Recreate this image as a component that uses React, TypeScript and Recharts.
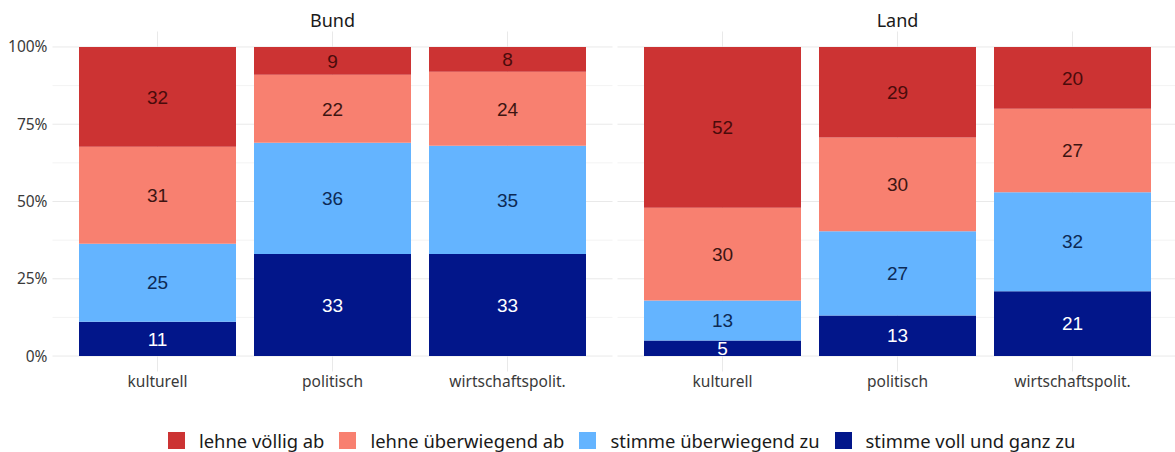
import { BarChart, Bar, XAxis, YAxis, CartesianGrid, LabelList } from "recharts";

const categories = ["kulturell", "politisch", "wirtschaftspolit."];

// Bund
const bundVoll = [11, 33, 33];
const bundUeberZu = [25, 36, 35];
const bundUeberAb = [31, 22, 24];
const bundVoellig = [32, 9, 8];

// Land
const landVoll = [5, 13, 21];
const landUeberZu = [13, 27, 32];
const landUeberAb = [30, 30, 27];
const landVoellig = [52, 29, 20];

const yTicks = [0, 0.25, 0.5, 0.75, 1];
const yMinor = [0.125, 0.375, 0.625, 0.875];

const series = [
  { key: "voll", name: "stimme voll und ganz zu", color: "#02168a", label: "#ffffff" },
  { key: "ueberZu", name: "stimme überwiegend zu", color: "#64b4ff", label: "#0d2a55" },
  { key: "ueberAb", name: "lehne überwiegend ab", color: "#f88070", label: "#3d1512" },
  { key: "voellig", name: "lehne völlig ab", color: "#cc3333", label: "#4a0b0b" },
];

const buildRows = (
  voll: number[],
  ueberZu: number[],
  ueberAb: number[],
  voellig: number[]
) =>
  categories.map((c, i) => {
    const total = voll[i] + ueberZu[i] + ueberAb[i] + voellig[i];
    return {
      category: c,
      voll: voll[i] / total,
      ueberZu: ueberZu[i] / total,
      ueberAb: ueberAb[i] / total,
      voellig: voellig[i] / total,
      raw_voll: voll[i],
      raw_ueberZu: ueberZu[i],
      raw_ueberAb: ueberAb[i],
      raw_voellig: voellig[i],
    };
  });

const bundData = buildRows(bundVoll, bundUeberZu, bundUeberAb, bundVoellig);
const landData = buildRows(landVoll, landUeberZu, landUeberAb, landVoellig);

const FONT = "'Noto Sans', sans-serif";

const Panel = ({
  data,
  width,
  showY,
  margin,
}: {
  data: any[];
  width: number;
  showY: boolean;
  margin: any;
}) => (
  <BarChart width={width} height={400} data={data} margin={margin}>
    <CartesianGrid horizontalValues={yMinor} vertical={false} stroke="#f3f3f3" />
    <CartesianGrid horizontalValues={yTicks} syncWithTicks stroke="#e9e9e9" />
    <XAxis
      dataKey="category"
      padding={{ left: 17.5, right: 17.5 }}
      axisLine={false}
      tickLine={false}
      tickSize={0}
      tickMargin={4}
      height={28.5}
      tick={{ fill: "#3a3a3a", fontSize: 15.5, fontFamily: FONT }}
    />
    <YAxis
      hide={!showY}
      width={52.5}
      domain={[-0.05, 1.05]}
      allowDataOverflow
      ticks={yTicks}
      tickFormatter={(v: number) => `${Math.round(v * 100)}%`}
      axisLine={false}
      tickLine={false}
      tickSize={0}
      tickMargin={5}
      tick={{ fill: "#3a3a3a", fontSize: 15.5, fontFamily: FONT }}
    />
    {series.map((s) => (
      <Bar
        key={s.key}
        dataKey={s.key}
        stackId="a"
        fill={s.color}
        barSize={157}
        isAnimationActive={false}
      >
        <LabelList
          dataKey={`raw_${s.key}`}
          position="center"
          fill={s.label}
          fontSize={19}
          fontFamily="'Liberation Sans', Arial, sans-serif"
        />
      </Bar>
    ))}
  </BarChart>
);

const legendOrder = [...series].reverse();

export default function App() {
  return (
    <div
      style={{
        position: "absolute",
        left: 0,
        top: 0,
        width: 1175,
        height: 452,
        overflow: "hidden",
        background: "#fff",
        fontFamily: FONT,
      }}
    >
      <div style={{ position: "absolute", left: 0, top: 0 }}>
        <Panel
          data={bundData}
          width={615}
          showY
          margin={{ top: 31.5, right: 2.5, bottom: 0, left: 0 }}
        />
      </div>
      <div style={{ position: "absolute", left: 615, top: 0 }}>
        <Panel
          data={landData}
          width={562.5}
          showY={false}
          margin={{ top: 31.5, right: 0, bottom: 0, left: 2.5 }}
        />
      </div>
      {[
        { t: "Bund", cx: 332.5 },
        { t: "Land", cx: 897.5 },
      ].map((s) => (
        <div
          key={s.t}
          style={{
            position: "absolute",
            left: s.cx - 100,
            width: 200,
            top: 11,
            lineHeight: "18px",
            fontSize: 18,
            textAlign: "center",
            color: "#1a1a1a",
          }}
        >
          {s.t}
        </div>
      ))}
      <div
        style={{
          position: "absolute",
          left: 168,
          top: 432,
          height: 17,
          display: "flex",
          alignItems: "center",
          fontSize: 18.4,
          color: "#1a1a1a",
          whiteSpace: "nowrap",
        }}
      >
        {legendOrder.map((s) => (
          <div
            key={s.key}
            style={{ display: "flex", alignItems: "center", marginRight: 15 }}
          >
            <div
              style={{ width: 17, height: 17, background: s.color, marginRight: 14 }}
            />
            <span style={{ lineHeight: "17px" }}>{s.name}</span>
          </div>
        ))}
      </div>
    </div>
  );
}
